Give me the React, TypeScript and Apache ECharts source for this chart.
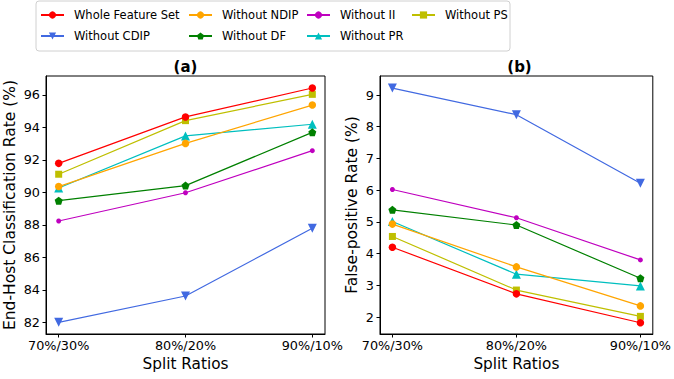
import React, { useEffect, useRef } from "react";
import * as echarts from "echarts";

const categories = ["70%/30%", "80%/20%", "90%/10%"];
const seriesNames = [
  "Whole Feature Set",
  "Without CDIP",
  "Without NDIP",
  "Without DF",
  "Without II",
  "Without PR",
  "Without PS",
];
const colors = ["#ff0000", "#4169e1", "#ffa500", "#008000", "#bf00bf", "#00bfbf", "#bfbf00"];

// (a) End-Host Classification Rate (%)
const rateWhole = [91.79, 94.65, 96.43];
const rateCDIP = [82.0, 83.62, 87.79];
const rateNDIP = [90.36, 93.02, 95.38];
const rateDF = [89.49, 90.42, 93.7];
const rateII = [88.24, 89.98, 92.57];
const ratePR = [90.27, 93.48, 94.2];
const ratePS = [91.12, 94.42, 96.04];

// (b) False-positive Rate (%)
const fprWhole = [4.2, 2.73, 1.82];
const fprCDIP = [9.22, 8.38, 6.22];
const fprNDIP = [4.93, 3.58, 2.35];
const fprDF = [5.38, 4.9, 3.22];
const fprII = [6.02, 5.13, 3.8];
const fprPR = [5.01, 3.35, 2.98];
const fprPS = [4.54, 2.85, 2.02];

const rateTicks = [82, 84, 86, 88, 90, 92, 94, 96];
const fprTicks = [2, 3, 4, 5, 6, 7, 8, 9];
const xTicks = [0, 1, 2];

const rateData = [rateWhole, rateCDIP, rateNDIP, rateDF, rateII, ratePR, ratePS];
const fprData = [fprWhole, fprCDIP, fprNDIP, fprDF, fprII, fprPR, fprPS];

const pentagon = "path://M0,-1 L0.951,-0.309 L0.588,0.809 L-0.588,0.809 L-0.951,-0.309 Z";
const markerSymbols = ["circle", "triangle", "circle", pentagon, "circle", "triangle", "rect"];
const markerSizes = [7.5, 9, 7.5, 8, 5, 9, 7];
const markerRotate = [0, 180, 0, 0, 0, 0, 0];

const FONT = "DejaVu Sans";

export default function App() {
  const ref = useRef<HTMLDivElement>(null);
  useEffect(() => {
    if (!ref.current) return;
    const chart = echarts.init(ref.current, null, { renderer: "svg" });

    const makeSeries = (data: number[][], idx: number) =>
      data.map((vals, i) => ({
        name: seriesNames[i],
        type: "line",
        xAxisIndex: idx,
        yAxisIndex: idx,
        data: vals.map((v, k) => [k, v]),
        symbol: markerSymbols[i],
        symbolSize: markerSizes[i],
        symbolRotate: markerRotate[i],
        showAllSymbol: true,
        lineStyle: { color: colors[i], width: 1.2 },
        itemStyle: { color: colors[i] },
        emphasis: { disabled: true },
        z: 10 - i,
      }));

    const xAxis = (gi: number) => ({
      type: "value",
      gridIndex: gi,
      min: -0.1,
      max: 2.1,
      name: "Split Ratios",
      nameLocation: "middle",
      nameGap: 21,
      nameTextStyle: { fontFamily: FONT, fontSize: 15.3, color: "#000" },
      axisLine: { show: true, onZero: false, lineStyle: { color: "#000", width: 1 } },
      axisTick: { show: true, inside: false, length: 3.5, customValues: xTicks, lineStyle: { color: "#000" } },
      axisLabel: {
        customValues: xTicks,
        formatter: (v: number) => categories[Math.round(v)],
        fontFamily: FONT,
        fontSize: 12.8,
        color: "#000",
        margin: 5,
      },
      splitLine: { show: false },
    });

    const yAxis = (gi: number, min: number, max: number, ticks: number[], name: string, gap: number) => ({
      type: "value",
      gridIndex: gi,
      min,
      max,
      name,
      nameLocation: "middle",
      nameGap: gap,
      nameTextStyle: { fontFamily: FONT, fontSize: 15.5, color: "#000" },
      axisLine: { show: true, onZero: false, lineStyle: { color: "#000", width: 1 } },
      axisTick: { show: true, inside: false, length: 3.5, customValues: ticks, lineStyle: { color: "#000" } },
      axisLabel: {
        customValues: ticks,
        fontFamily: FONT,
        fontSize: 12.8,
        color: "#000",
        margin: 6,
      },
      splitLine: { show: false },
    });

    const legendCols = [
      { names: ["Whole Feature Set", "Without CDIP"], left: 40 },
      { names: ["Without NDIP", "Without DF"], left: 188 },
      { names: ["Without II", "Without PR"], left: 306 },
      { names: ["Without PS"], left: 411 },
    ];

    chart.setOption({
      animation: false,
      textStyle: { fontFamily: FONT },
      grid: [
        { left: 46, right: 349, top: 76, bottom: 45, show: true, borderColor: "#000", borderWidth: 1, backgroundColor: "transparent" },
        { left: 380, right: 15, top: 76, bottom: 45, show: true, borderColor: "#000", borderWidth: 1, backgroundColor: "transparent" },
      ],
      xAxis: [xAxis(0), xAxis(1)],
      yAxis: [
        yAxis(0, 81.28, 97.17, rateTicks, "End-Host Classification Rate (%)", 28),
        yAxis(1, 1.464, 9.6, fprTicks, "False-positive Rate (%)", 20),
      ],
      legend: legendCols.map((c) => ({
        data: c.names,
        orient: "vertical",
        left: c.left,
        top: 8.5,
        itemWidth: 23,
        itemHeight: 9,
        itemGap: 8,
        padding: 0,
        selectedMode: false,
        formatter: (n: string) => `{t|${n}}`,
        textStyle: {
          fontFamily: FONT,
          fontSize: 11.5,
          color: "#000",
          lineHeight: 13,
          rich: { t: { fontFamily: FONT, fontSize: 11.5, color: "#000", lineHeight: 13, padding: [0, 0, 0, 5] } },
        },
      })),
      graphic: [
        {
          type: "rect",
          shape: { x: 36, y: 1, width: 474, height: 50, r: 3 },
          style: { fill: "#fff", stroke: "#d0d0d0", lineWidth: 1 },
          z: -10,
          silent: true,
        },
        {
          type: "text",
          x: 185.5,
          y: 67,
          style: { text: "(a)", font: `bold 15px '${FONT}'`, fill: "#000", align: "center", verticalAlign: "middle" },
        },
        {
          type: "text",
          x: 519.5,
          y: 67,
          style: { text: "(b)", font: `bold 15px '${FONT}'`, fill: "#000", align: "center", verticalAlign: "middle" },
        },
      ],
      series: [...makeSeries(rateData, 0), ...makeSeries(fprData, 1)],
    });

    return () => chart.dispose();
  }, []);

  return <div ref={ref} style={{ width: 674, height: 379, position: "absolute", left: 0, top: 0 }} />;
}
